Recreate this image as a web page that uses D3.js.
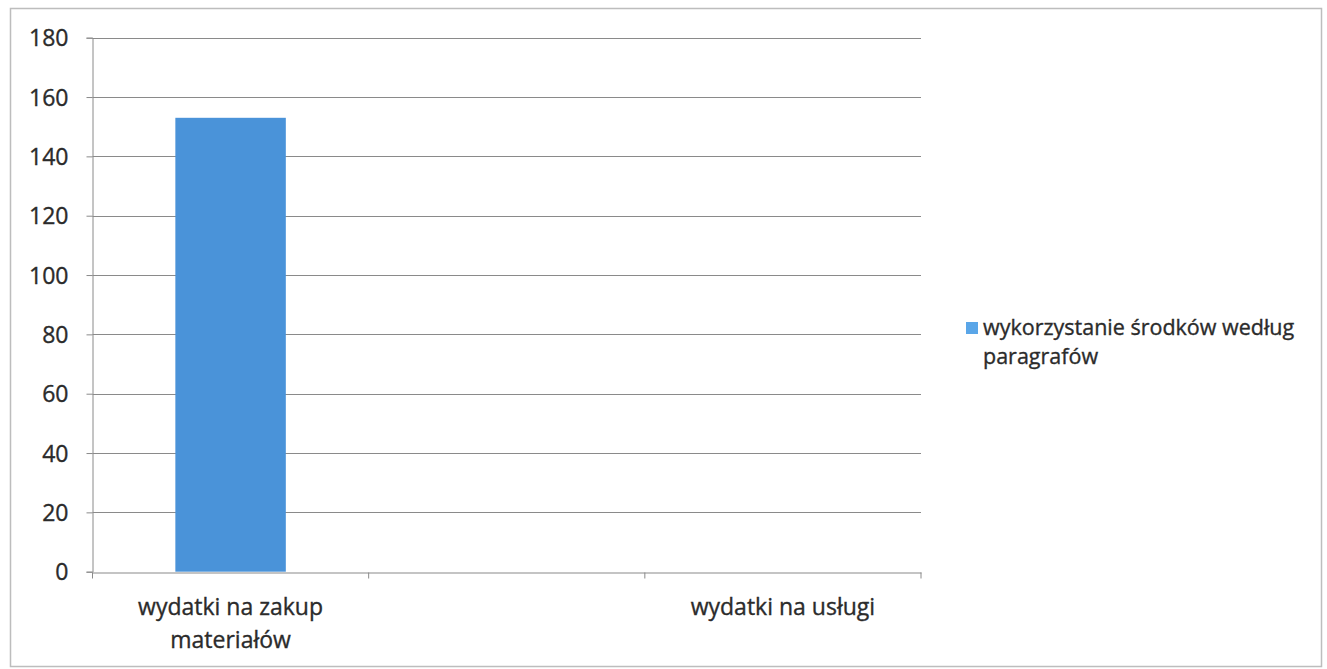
<!DOCTYPE html>
<html>
<head>
<meta charset="utf-8">
<script src="https://cdn.jsdelivr.net/npm/d3@7"></script>
<style>
  html, body { margin: 0; padding: 0; background: #fff; }
  svg { display: block; }
  text { font-family: "Open Sans", sans-serif; fill: #2b2b2b; stroke: #2b2b2b; stroke-width: 0.35px; }
</style>
</head>
<body>
<svg id="chart" width="1327" height="669"></svg>
<script>
// ---- data ----
const categories = [["wydatki na zakup", "materiałów"], [""], ["wydatki na usługi"]];
const values = [153, 0, 0];
const seriesName = ["wykorzystanie środków według", "paragrafów"];
const yTicks = [0, 20, 40, 60, 80, 100, 120, 140, 160, 180];

const svg = d3.select("#chart");

// outer border
svg.append("rect").attr("x", 10.5).attr("y", 8.5).attr("width", 1311).attr("height", 658)
  .attr("fill", "#fff").attr("stroke", "#bdbdbd").attr("stroke-width", 1.5);

const plotLeft = 92.5, plotRight = 921, plotTop = 37.7, plotBottom = 571.7;

const x = d3.scaleBand().domain(d3.range(categories.length)).range([plotLeft, plotRight]).paddingInner(0).paddingOuter(0);
const y = d3.scaleLinear().domain([0, 180]).range([plotBottom, plotTop]);

// gridlines
svg.append("g").selectAll("line").data(yTicks.filter(d => d > 0)).join("line")
  .attr("x1", plotLeft).attr("x2", plotRight)
  .attr("y1", d => Math.round(y(d)) + 0.5).attr("y2", d => Math.round(y(d)) + 0.5)
  .attr("stroke", "#8a8a8a").attr("stroke-width", 1.2);

// y axis
const yAxis = d3.axisLeft(y).tickValues(yTicks).tickSize(6).tickPadding(18).tickFormat(d3.format("d"));
const gy = svg.append("g").attr("transform", `translate(${plotLeft},0)`).call(yAxis);
gy.select(".domain").attr("stroke", "#8a8a8a");
gy.selectAll(".tick line").attr("stroke", "#8a8a8a");
gy.selectAll(".tick text").style("font-size", "23px").attr("dy", "0.36em");

// bars
const barW = x.bandwidth() * 0.4;
svg.append("g").selectAll("rect").data(values).join("rect")
  .attr("x", (d, i) => x(i) + (x.bandwidth() - barW) / 2)
  .attr("y", d => y(d))
  .attr("width", barW)
  .attr("height", d => y(0) - y(d))
  .attr("fill", "#4a93d9");

// x axis
const xAxis = d3.axisBottom(x).tickSize(0).tickFormat("");
const gx = svg.append("g").attr("transform", `translate(0,${Math.round(plotBottom) + 0.5})`).call(xAxis);
gx.select(".domain").attr("stroke", "#8a8a8a").attr("stroke-width", 1.2);
const bounds = d3.range(categories.length + 1).map(i => plotLeft + i * x.step());
gx.selectAll(".bt").data(bounds).join("line").attr("class", "bt")
  .attr("x1", d => d).attr("x2", d => d).attr("y1", 0).attr("y2", 6)
  .attr("stroke", "#8a8a8a");

// category labels
const lab = svg.append("g");
categories.forEach((lines, i) => {
  const cx = x(i) + x.bandwidth() / 2;
  const t = lab.append("text").attr("text-anchor", "middle")
    .attr("x", cx).attr("y", 615)
    .style("font-size", "23px");
  lines.forEach((l, j) => {
    t.append("tspan").attr("x", cx).attr("dy", j === 0 ? 0 : 32.5).text(l);
  });
});

// legend
const lg = svg.append("g");
lg.append("rect").attr("x", 966).attr("y", 322).attr("width", 12).attr("height", 12).attr("fill", "#5aa6e8");
const lt = lg.append("text").attr("x", 983).attr("y", 335).style("font-size", "21.5px");
seriesName.forEach((l, j) => lt.append("tspan").attr("x", 983).attr("dy", j === 0 ? 0 : 28.5).text(l));
</script>
</body>
</html>
